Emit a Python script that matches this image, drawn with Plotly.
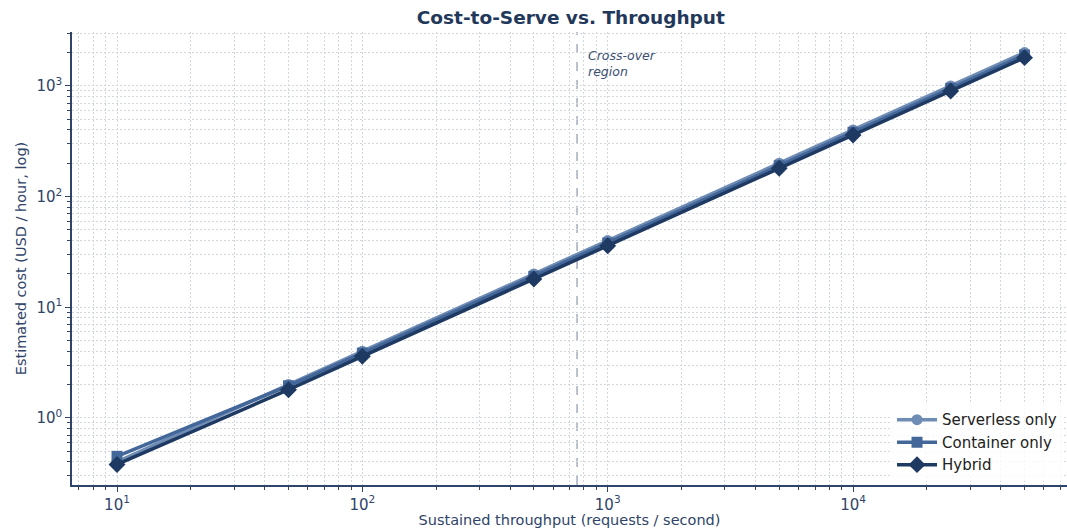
import numpy as np
import plotly.graph_objects as go

# Sustained throughput (requests / second)
throughput = [10, 50, 100, 500, 1000, 5000, 10000, 25000, 50000]

# Estimated cost (USD / hour)
serverless_cost = [0.40, 2.0, 4.0, 20, 40, 200, 400, 1000, 2000]
container_cost = [0.45, 1.95, 3.85, 19, 38, 190, 380, 950, 1900]
hybrid_cost = [0.38, 1.8, 3.6, 18, 36, 180, 360, 900, 1800]

crossover_rps = 750

x_major = [10, 100, 1000, 10000]
x_major_text = ["10<sup>1</sup>", "10<sup>2</sup>", "10<sup>3</sup>", "10<sup>4</sup>"]
y_major = [1, 10, 100, 1000]
y_major_text = ["10<sup>0</sup>", "10<sup>1</sup>", "10<sup>2</sup>", "10<sup>3</sup>"]

AXIS = "#2f4468"
GRID = "#d3d7de"
DOTS = "1.5px,2.5px"
FONT = "DejaVu Sans"

minor_x = [m * 10 ** e for e in range(0, 5) for m in range(2, 10)]
minor_y = [m * 10 ** e for e in range(-1, 4) for m in range(2, 10)]

fig = go.Figure()
series = [
    ("Serverless only", serverless_cost, "#6f8cb4", "circle", 11),
    ("Container only", container_cost, "#44679a", "square", 11),
    ("Hybrid", hybrid_cost, "#1f3a62", "diamond", 13),
]
for name, vals, color, sym, size in series:
    fig.add_trace(go.Scatter(
        x=throughput, y=vals, name=name, mode="lines+markers",
        line=dict(color=color, width=3.5),
        marker=dict(symbol=sym, size=size, color=color),
    ))

fig.add_shape(type="line", xref="x", yref="paper", x0=crossover_rps, x1=crossover_rps,
              y0=0, y1=1, line=dict(color="#a3adba", width=1.5, dash="dash"), layer="below")
fig.add_annotation(x=np.log10(crossover_rps), xref="x", y=0.968, yref="paper",
                   text="<i>Cross-over<br>region</i>", showarrow=False,
                   xanchor="left", yanchor="top", xshift=9, align="left",
                   font=dict(family=FONT, size=12.5, color="#3a4f72"))

axis_common = dict(
    type="log", showline=True, linecolor=AXIS, linewidth=1.5, mirror=False,
    ticks="outside", ticklen=5, tickwidth=1.2, tickcolor=AXIS,
    showgrid=True, gridcolor=GRID, griddash=DOTS, gridwidth=1, zeroline=False,
    tickfont=dict(family=FONT, size=15, color=AXIS),
)

fig.update_xaxes(
    **axis_common,
    range=[0.8166, 4.872], tickmode="array", tickvals=x_major, ticktext=x_major_text,
    minor=dict(tickmode="array", tickvals=minor_x, ticks="outside", ticklen=3,
               tickcolor=AXIS, showgrid=True, gridcolor=GRID, griddash=DOTS),
    title=dict(text="Sustained throughput (requests / second)",
               font=dict(family=FONT, size=14.5, color=AXIS), standoff=3),
)
fig.update_yaxes(
    **axis_common,
    range=[-0.606, 3.487], tickmode="array", tickvals=y_major, ticktext=y_major_text,
    minor=dict(tickmode="array", tickvals=minor_y, ticks="outside", ticklen=3,
               tickcolor=AXIS, showgrid=True, gridcolor=GRID, griddash=DOTS),
    title=dict(text="Estimated cost (USD / hour, log)",
               font=dict(family=FONT, size=14.5, color=AXIS), standoff=6),
)

fig.update_layout(
    width=1067, height=528,
    margin=dict(l=72, r=0, t=32, b=43),
    paper_bgcolor="white", plot_bgcolor="white",
    font=dict(family=FONT, color=AXIS),
    title=dict(text="<b>Cost-to-Serve vs. Throughput</b>", x=0.535, xanchor="center",
               y=0.967, yanchor="middle",
               font=dict(family=FONT, size=18.5, color="#22385a")),
    legend=dict(x=0.995, xanchor="right", y=0.008, yanchor="bottom",
                bgcolor="rgba(255,255,255,0.8)", borderwidth=0,
                font=dict(family=FONT, size=15, color="#222222"),
                itemwidth=40, tracegroupgap=0),
    showlegend=True,
)

fig.write_html("out.html")
